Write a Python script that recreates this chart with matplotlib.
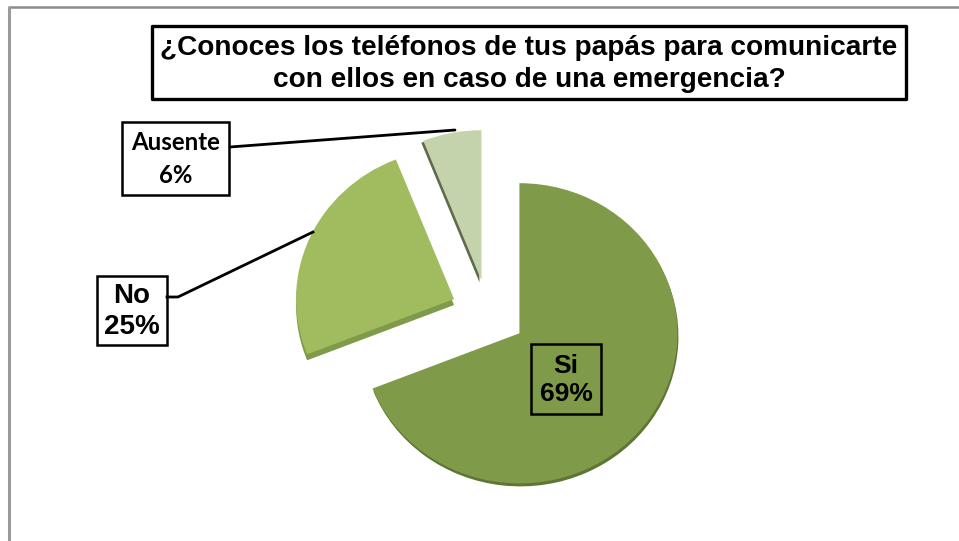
import matplotlib
matplotlib.use("Agg")
import matplotlib.pyplot as plt
from matplotlib.patches import Rectangle

W, H = 959, 541

categories = ["Si", "No", "Ausente"]
values = [69, 25, 6]
face_colors = ["#7F9A48", "#A0BC5F", "#C4D3AC"]
side_colors = ["#5F7535", "#7F9A48", "#5E6B4C"]

# how far each slice is pulled out of the pie, in px
explode = [38, 37, 35]
# offset of the darker slice underneath, in px (x, y up)
side_offset = [(1, -3), (0, -6), (-2, -2)]
# pie is a bit squashed vertically
squash = 0.95


def py(y):
    return H - y


fig = plt.figure(figsize=(W / 100, H / 100), dpi=100)

# pie on its own axes so it can be squashed
ax_pie = fig.add_axes([0, 0, 1, 1], zorder=1)
center = (488, py(313) / squash)
radius = 158

# sides first, then faces on top
sides, _ = ax_pie.pie(values, colors=side_colors, startangle=90, counterclock=False,
                      explode=explode, center=center, radius=radius, frame=True)
faces, _ = ax_pie.pie(values, colors=face_colors, startangle=90, counterclock=False,
                      explode=explode, center=center, radius=radius, frame=True)
for w, off in zip(sides, side_offset):
    w.set_center((w.center[0] + off[0], w.center[1] + off[1] / squash))
for w in faces:
    w.set_edgecolor("none")

ax_pie.set_aspect("auto")
ax_pie.set_xlim(0, W)
ax_pie.set_ylim(0, H / squash)
ax_pie.axis("off")

ax = fig.add_axes([0, 0, 1, 1], zorder=2)
ax.patch.set_alpha(0)
ax.set_xlim(0, W)
ax.set_ylim(0, H)
ax.axis("off")

# outer frame, only top and left are visible
ax.plot([9, W], [py(7), py(7)], color="#8C8C8C", lw=1.8, solid_capstyle="butt")
ax.plot([9, 9], [py(6), 0], color="#9A9A9A", lw=2.2, solid_capstyle="butt")

# leader lines
ax.plot([230, 455], [py(147), py(130)], color="black", lw=2, solid_capstyle="round")
ax.plot([167, 178, 313], [py(297), py(297), py(232)], color="black", lw=2)

# title
ax.add_patch(Rectangle((152, py(99)), 754, 73, fc="white", ec="black", lw=2.4, joinstyle="round"))
ax.text(529, py(64), "¿Conoces los teléfonos de tus papás para comunicarte\ncon ellos en caso de una emergencia?",
        family="Liberation Sans", fontweight="bold", fontsize=20.2, ha="center", va="center", linespacing=1.27)

# labels
ax.add_patch(Rectangle((122, py(195)), 107, 73, fc="white", ec="black", lw=1.8))
ax.text(176, py(159), f"{categories[2]}\n{values[2]}%", family="Lato", fontweight="bold",
        fontsize=17.3, ha="center", va="center", linespacing=1.55)

ax.add_patch(Rectangle((97, py(345)), 70, 69, fc="white", ec="black", lw=1.8))
ax.text(132, py(311.5), f"{categories[1]}\n{values[1]}%", family="Liberation Sans", fontweight="bold",
        fontsize=20, ha="center", va="center", linespacing=1.27)

ax.add_patch(Rectangle((531, py(414)), 70, 70, fc="none", ec="black", lw=1.8))
ax.text(566, py(380), f"{categories[0]}\n{values[0]}%", family="Liberation Sans", fontweight="bold",
        fontsize=19, ha="center", va="center", linespacing=1.22)

fig.savefig("out.png", dpi=100)
plt.close(fig)
